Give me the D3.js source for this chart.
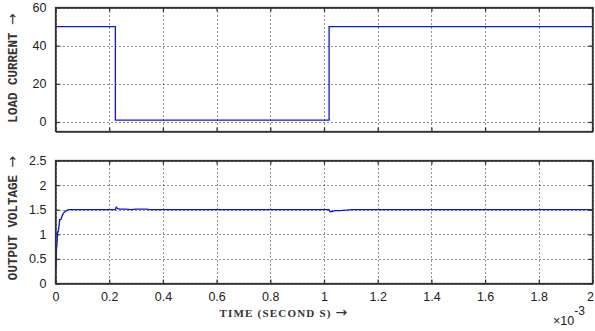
<!DOCTYPE html>
<html><head><meta charset="utf-8">
<script src="https://cdn.jsdelivr.net/npm/d3@7"></script>
<style>body{margin:0;background:#fff}svg{display:block}</style>
</head><body>
<script>
// ---- data (time in units of 1e-3 s) ----
const currentTime = [0, 0.223, 0.223, 1.019, 1.019, 2.0];
const currentVal  = [50, 50, 1, 1, 50, 50];
const voltageTime = [0, 0.001, 0.002, 0.004, 0.005, 0.008, 0.01, 0.014, 0.015, 0.02, 0.025, 0.03, 0.035, 0.04, 0.05, 0.223, 0.226, 0.232, 0.24, 0.26, 0.28, 0.30, 0.32, 0.34, 0.35, 1.019, 1.022, 1.03, 1.04, 1.06, 1.08, 1.09, 1.10, 2.0];
const voltageVal  = [0, 0.33, 0.33, 0.75, 0.75, 1.05, 1.05, 1.2, 1.3, 1.3, 1.38, 1.43, 1.46, 1.48, 1.5, 1.5, 1.55, 1.52, 1.51, 1.51, 1.50, 1.51, 1.51, 1.51, 1.5, 1.5, 1.46, 1.46, 1.48, 1.48, 1.49, 1.49, 1.5, 1.5];
const xTicks = [0, 0.2, 0.4, 0.6, 0.8, 1, 1.2, 1.4, 1.6, 1.8, 2];
const currentTicks = [0, 20, 40, 60];
const voltageTicks = [0, 0.5, 1, 1.5, 2, 2.5];

const W = 595, H = 331;
const svg = d3.select("body").append("svg").attr("width", W).attr("height", H);
const x = d3.scaleLinear().domain([0, 2]).range([55.5, 592.5]);
const yTop = d3.scaleLinear().domain([-5, 60]).range([131.5, 7.5]);
const yBot = d3.scaleLinear().domain([0, 2.5]).range([283.5, 160.5]);

function panel(y, yTicks, xs, ys, showXLabels) {
  const g = svg.append("g");
  const [y0, y1] = y.range();
  const gridCol = "#222";
  // grid
  xTicks.forEach(t => {
    const px = Math.round(x(t)) + 0.5;
    g.append("line").attr("x1", px).attr("x2", px).attr("y1", y1).attr("y2", y0)
      .attr("stroke", gridCol).attr("stroke-width", 1).attr("stroke-dasharray", "1,3");
  });
  yTicks.forEach(t => {
    const py = Math.round(y(t)) + 0.5;
    g.append("line").attr("x1", x.range()[0]).attr("x2", x.range()[1]).attr("y1", py).attr("y2", py)
      .attr("stroke", gridCol).attr("stroke-width", 1).attr("stroke-dasharray", "1,3");
  });
  // data line
  const line = d3.line().x(d => x(d[0])).y(d => y(d[1]));
  g.append("path").datum(xs.map((t, i) => [t, ys[i]])).attr("d", line)
    .attr("fill", "none").attr("stroke", "#0a14f0").attr("stroke-width", 1.3);
  // axes (MATLAB style box with inward ticks)
  const axB = d3.axisBottom(x).tickValues(xTicks).tickSizeInner(-4).tickSizeOuter(0)
    .tickFormat(showXLabels ? d3.format("") : () => "").tickPadding(9);
  const axT = d3.axisTop(x).tickValues(xTicks).tickSizeInner(-4).tickSizeOuter(0).tickFormat(() => "");
  const axL = d3.axisLeft(y).tickValues(yTicks).tickSizeInner(-4).tickSizeOuter(0).tickPadding(9).tickFormat(d3.format(""));
  const axR = d3.axisRight(y).tickValues(yTicks).tickSizeInner(-4).tickSizeOuter(0).tickFormat(() => "");
  [[axB, `translate(0,${y0})`, "b"], [axT, `translate(0,${y1})`, "t"], [axL, `translate(${x.range()[0]},0)`, "l"], [axR, `translate(${x.range()[1]},0)`, "r"]].forEach(([ax, tr, side]) => {
    const a = g.append("g").attr("transform", tr).call(ax);
    a.selectAll("line,path").attr("stroke", "#333").attr("stroke-width", 1.3);
    a.selectAll("text").attr("font-family", "Liberation Sans, Arial, sans-serif").attr("font-size", 12.5).attr("fill", "#222");
    if (side === "b" && showXLabels) {
      a.selectAll("text").filter(d => d === 2).attr("text-anchor", "end").attr("dx", 1);
    }
  });
  g.append("rect").attr("x", x.range()[0]).attr("y", y1).attr("width", x.range()[1] - x.range()[0]).attr("height", y0 - y1)
    .attr("fill", "none").attr("stroke", "#333").attr("stroke-width", 1.3);
}
panel(yTop, currentTicks, currentTime, currentVal, false);
panel(yBot, voltageTicks, voltageTime, voltageVal, true);

// axis labels
function yLabel(cx, cy, txt) {
  const t = svg.append("text").attr("transform", `translate(${cx},${cy}) rotate(-90)`).attr("text-anchor", "middle")
    .attr("font-family", "Liberation Mono, Courier New, monospace").attr("font-size", 12.5).attr("font-weight", "bold").attr("fill", "#333");
  t.append("tspan").text(txt + " ");
  t.append("tspan").attr("font-family", "DejaVu Sans, sans-serif").attr("font-weight", "normal").attr("font-size", 14).text("→");
}
yLabel(17, 68, "LOAD CURRENT");
yLabel(17, 218, "OUTPUT VOLTAGE");
const xl = svg.append("text").attr("x", 284).attr("y", 317).attr("text-anchor", "middle")
  .attr("font-family", "Liberation Serif, Times New Roman, serif").attr("font-size", 11).attr("font-weight", "bold")
  .attr("letter-spacing", 1.2).attr("fill", "#333");
xl.append("tspan").text("TIME (SECOND S) ");
xl.append("tspan").attr("font-family", "DejaVu Sans, sans-serif").attr("font-weight", "normal").attr("font-size", 14).text("→");
const mult = svg.append("text").attr("x", 553).attr("y", 325)
  .attr("font-family", "Liberation Sans, Arial, sans-serif").attr("font-size", 12.5).attr("fill", "#222");
mult.append("tspan").text("×10");
mult.append("tspan").attr("dy", -10).attr("font-size", 12).text("-3");
</script>
</body></html>
